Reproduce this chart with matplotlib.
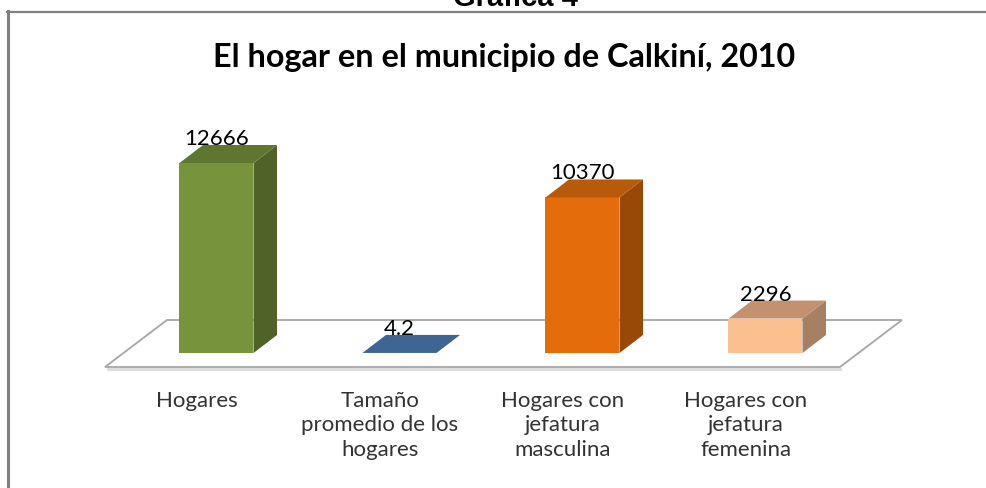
import matplotlib
matplotlib.use('Agg')
import matplotlib.pyplot as plt
from matplotlib.patches import Polygon
from matplotlib.lines import Line2D

# Data
categories = ['Hogares', 'Tamaño\npromedio de los\nhogares',
              'Hogares con\njefatura\nmasculina', 'Hogares con\njefatura\nfemenina']
values = [12666, 4.2, 10370, 2296]
value_labels = ['12666', '4.2', '10370', '2296']
front_colors = ['#77933C', '#4F81BD', '#E46C0A', '#FAC090']
side_colors = ['#4F6228', '#375D8A', '#984807', '#A68062']
top_colors = ['#5F7631', '#3F6592', '#B75A0A', '#C39170']

W, H = 987, 489
fig = plt.figure(figsize=(W / 100, H / 100), dpi=100)
ax = fig.add_axes([0, 0, 1, 1])

# pixel layout of the category / value scales
PX_CAT = 183.0      # pixels between bars
X0 = 216.5          # pixel x of first bar centre
PX_VAL = 0.015      # pixels per unit of value
BASE = 354.0        # pixel y (from top) of bar bottoms
ax.set_xlim(-X0 / PX_CAT, (W - X0) / PX_CAT)
ax.set_ylim(-(H - BASE) / PX_VAL, BASE / PX_VAL)
ax.axis('off')

def cx(px):
    return px / PX_CAT

def cy(px):
    return px / PX_VAL

bar_w = cx(74)
ddx, ddy = cx(23.5), cy(18)

# floor of the 3d chart
f_left, f_right = cx(105 - X0), cx(840 - X0)
f_front, f_back = cy(-14), cy(33)
f_dx = cx(62)
floor = Polygon([(f_left, f_front), (f_right, f_front), (f_right + f_dx, f_back),
                 (f_left + f_dx, f_back)], closed=True, facecolor='white',
                edgecolor='#A6A6A6', lw=1.3, zorder=1)
ax.add_patch(floor)
ax.plot([f_left + cx(3), f_right], [f_front - cy(2), f_front - cy(2)],
        color='#DADADA', lw=2, zorder=0.9)

# bars
for i, v in enumerate(values):
    x0, x1 = i - bar_w / 2, i + bar_w / 2
    front = Polygon([(x0, 0), (x1, 0), (x1, v), (x0, v)], closed=True,
                    facecolor=front_colors[i], edgecolor='none', zorder=3)
    side = Polygon([(x1, 0), (x1 + ddx, ddy), (x1 + ddx, v + ddy), (x1, v)], closed=True,
                   facecolor=side_colors[i], edgecolor='none', zorder=3)
    top = Polygon([(x0, v), (x1, v), (x1 + ddx, v + ddy), (x0 + ddx, v + ddy)], closed=True,
                  facecolor=top_colors[i], edgecolor='none', zorder=3)
    for p in (front, side, top):
        ax.add_patch(p)
    ax.text(i, v + ddy - cy(3), value_labels[i], ha='center', va='bottom',
            fontsize=16, family='Lato', color='black', zorder=4)

# category labels sit on the front edge of the floor
for i, c in enumerate(categories):
    ax.text(i - cx(19.5), cy(-37), c, ha='center', va='top', fontsize=16,
            family='Lato', color='#333333', linespacing=1.28)

# titles
fig.text(0.5105, 1 - 57 / H, 'El hogar en el municipio de Calkiní, 2010', ha='center',
         va='center', fontsize=23.3, family='Lato', fontweight='bold')
fig.text(0.522, 1 - 6 / H, 'Gráfica 4', ha='center', va='baseline', fontsize=21,
         family='Liberation Sans', fontweight='bold')

# frame of the chart area
fig.add_artist(Line2D([8.5 / W, 8.5 / W], [0, 1 - 12 / H], transform=fig.transFigure,
                      color='#808080', lw=2.2))
fig.add_artist(Line2D([7.5 / W, 1], [1 - 13 / H, 1 - 13 / H], transform=fig.transFigure,
                      color='#808080', lw=1.6))

fig.savefig('out.png', dpi=100, facecolor='white')
